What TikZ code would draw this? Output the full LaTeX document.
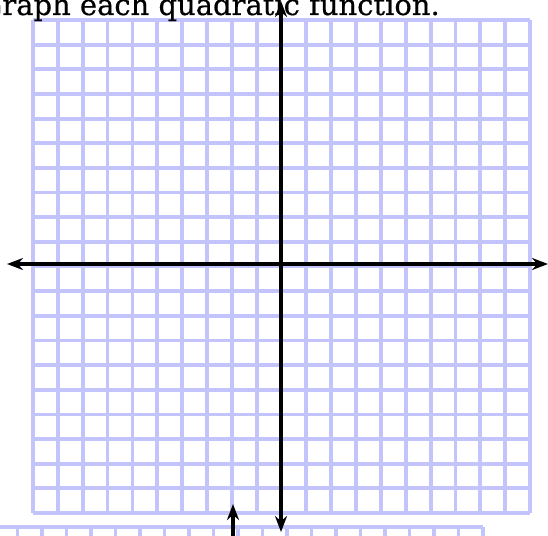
\documentclass[tikz,border=0pt]{standalone}
\usepackage{fontspec}
\setmainfont{DejaVu Serif}
\newfontfamily\titlefont[FakeBold=0.5]{DejaVu Serif}
\usepackage{tikz}
\usetikzlibrary{arrows.meta}
\definecolor{gridlav}{RGB}{196,196,252}

\begin{document}
\begin{tikzpicture}[x=1pt, y=-1pt,
  gridline/.style={gridlav, line width=3.8pt},
  axis/.style={line width=4pt, {Stealth[length=16pt,width=12pt]}-{Stealth[length=16pt,width=12pt]}},
  upaxis/.style={line width=4pt, -{Stealth[length=16pt,width=12pt]}}]
\useasboundingbox (0,0) rectangle (548,535);
% main grid 20 x 20
\foreach \i in {0,...,20} {
  \draw[gridline] ({33+\i*24.85},20) -- ({33+\i*24.85},513);
  \draw[gridline] (33,{20+\i*24.65}) -- (530,{20+\i*24.65});
}
% next grid, cut off at the bottom
\foreach \i in {0,...,20}
  \draw[gridline] ({483-\i*24.5},527) -- ({483-\i*24.5},550);
\draw[gridline] (-5,527) -- (483,527);
\node[anchor=base east, inner sep=0pt, font=\titlefont\fontsize{29}{34}\selectfont] (title) at (440,15) {Graph each quadratic function.};
% axes
\coordinate (xleft) at (7,264);
\coordinate (xright) at (548,264);
\coordinate (ytop) at (281,1);
\coordinate (ybot) at (281,532);
\coordinate (nextbot) at (233,545);
\coordinate (nexttop) at (233,504);
\draw[axis] (xleft) -- (xright);
\draw[axis] (ytop) -- (ybot);
\draw[upaxis] (nextbot) -- (nexttop);
\end{tikzpicture}
\end{document}
